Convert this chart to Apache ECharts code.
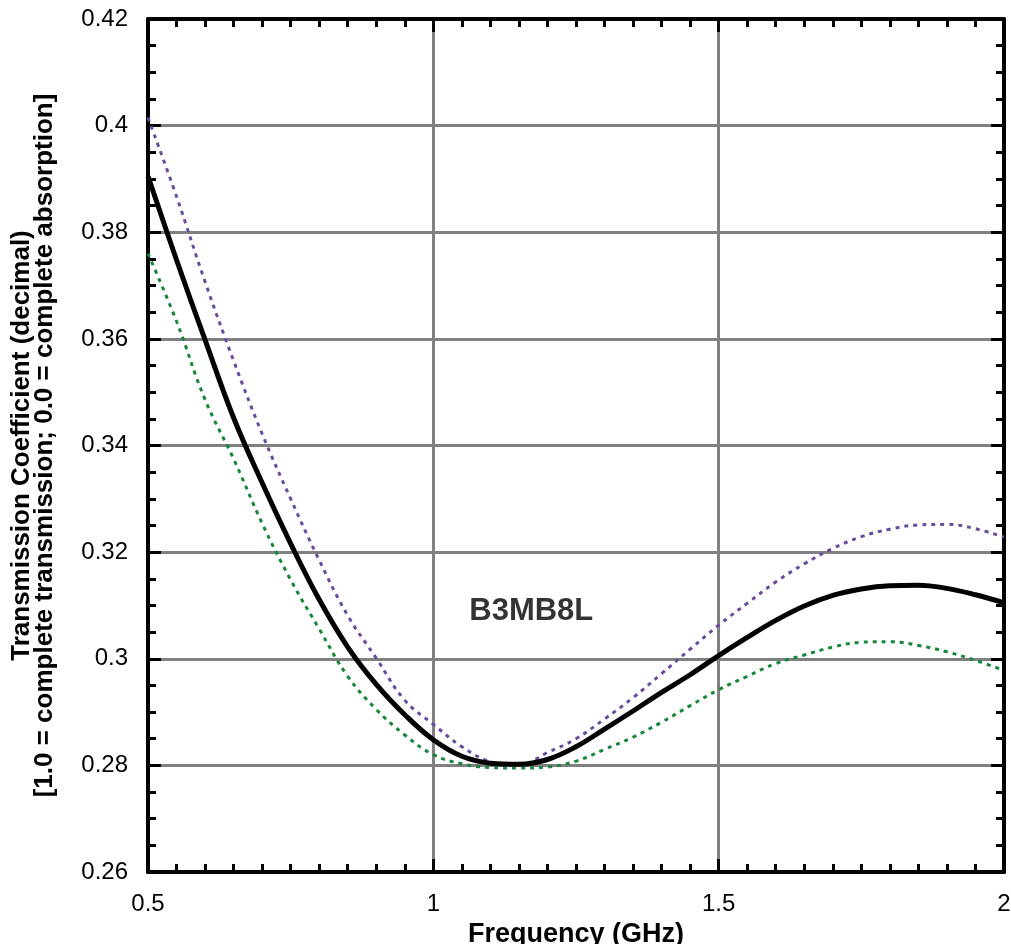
<!DOCTYPE html>
<html>
<head>
<meta charset="utf-8">
<script src="https://cdn.jsdelivr.net/npm/echarts@6/dist/echarts.min.js"></script>
<style>
html,body{margin:0;padding:0;background:#fff;}
#chart{width:1011px;height:944px;}
</style>
</head>
<body>
<div id="chart"></div>
<script>
const frequency = [0.5,0.55,0.6,0.65,0.7,0.75,0.8,0.85,0.9,0.95,1.0,1.05,1.1,1.15,1.2,1.25,1.3,1.35,1.4,1.45,1.5,1.55,1.6,1.65,1.7,1.75,1.8,1.85,1.9,1.95,2.0];
const meanValues = [0.3905,0.3748,0.3598,0.3452,0.3330,0.3216,0.3111,0.3022,0.2952,0.2895,0.2848,0.2817,0.2804,0.2802,0.2811,0.2835,0.2868,0.2902,0.2937,0.2970,0.3006,0.3040,0.3072,0.3099,0.3119,0.3131,0.3137,0.3138,0.3132,0.3120,0.3105];
const upperValues = [0.4015,0.3867,0.3707,0.3559,0.3422,0.3300,0.3185,0.3081,0.3001,0.2922,0.2877,0.2835,0.2807,0.2801,0.2824,0.2850,0.2887,0.2927,0.2972,0.3018,0.3063,0.3104,0.3144,0.3178,0.3207,0.3229,0.3243,0.3251,0.3252,0.3244,0.3228];
const lowerValues = [0.3760,0.3633,0.3486,0.3375,0.3254,0.3148,0.3056,0.2967,0.2905,0.2857,0.2820,0.2803,0.2796,0.2795,0.2797,0.2808,0.2830,0.2853,0.2881,0.2912,0.2942,0.2967,0.2991,0.3007,0.3022,0.3031,0.3032,0.3025,0.3013,0.2997,0.2978];
const xTicks = [0.5, 1, 1.5, 2];
const yTicks = [0.26,0.28,0.30,0.32,0.34,0.36,0.38,0.40,0.42];
const annotationText = 'B3MB8L';
const annotationPos = [1.1716, 0.3088];
const xTitle = 'Frequency (GHz)';
const yTitle = 'Transmission Coefficient (decimal)\n[1.0 = complete transmission; 0.0 = complete absorption]';

const FONT = '"Liberation Sans", Arial, sans-serif';
const chart = echarts.init(document.getElementById('chart'), null, {renderer:'canvas'});

function zip(xs, ys){ return xs.map((x,i)=>[x, ys[i]]); }

const axisLineStyle = {show:true, onZero:false, lineStyle:{color:'#000', width:4}};
const majorTick = {show:true, inside:true, length:13, lineStyle:{color:'#000', width:3}};

const option = {
  backgroundColor:'#fff',
  animation:false,
  grid:{left:148, right:7, top:19, bottom:72, containLabel:false, outerBoundsMode:'none'},
  xAxis:[
    {
      type:'value', min:xTicks[0], max:xTicks[xTicks.length-1], interval:0.5, position:'bottom',
      name:xTitle, nameLocation:'middle', nameGap:46,
      nameTextStyle:{fontFamily:FONT, fontWeight:'bold', fontSize:27, color:'#000'},
      axisLabel:{fontFamily:FONT, fontSize:24, color:'#000', margin:20},
      axisLine:axisLineStyle, axisTick:majorTick,
      splitLine:{show:true, lineStyle:{color:'#808080', width:3}},
      minorTick:{show:true, splitNumber:10, length:8, lineStyle:{color:'#000', width:3}}
    },
    {
      type:'value', min:xTicks[0], max:xTicks[xTicks.length-1], interval:0.5, position:'top',
      axisLabel:{show:false}, splitLine:{show:false},
      axisLine:axisLineStyle, axisTick:majorTick,
      minorTick:{show:true, splitNumber:10, length:8, lineStyle:{color:'#000', width:3}}
    }
  ],
  yAxis:[
    {
      type:'value', min:yTicks[0], max:yTicks[yTicks.length-1], interval:0.02, position:'left',
      name:yTitle, nameLocation:'middle', nameGap:92, nameRotate:90,
      nameTextStyle:{fontFamily:FONT, fontWeight:'bold', fontSize:26, color:'#000', lineHeight:23, align:'center'},
      axisLabel:{fontFamily:FONT, fontSize:24, color:'#000', margin:20},
      axisLine:axisLineStyle, axisTick:majorTick,
      splitLine:{show:true, lineStyle:{color:'#808080', width:3}},
      minorTick:{show:true, splitNumber:4, length:8, lineStyle:{color:'#000', width:3}}
    },
    {
      type:'value', min:yTicks[0], max:yTicks[yTicks.length-1], interval:0.02, position:'right',
      axisLabel:{show:false}, splitLine:{show:false},
      axisLine:axisLineStyle, axisTick:majorTick,
      minorTick:{show:true, splitNumber:4, length:8, lineStyle:{color:'#000', width:3}}
    }
  ],
  series:[
    {type:'line', name:'upper', data:zip(frequency, upperValues), smooth:0.4, showSymbol:false, clip:true, z:3,
     lineStyle:{color:'#6a4c9e', width:3, type:[4,5]}},
    {type:'line', name:'lower', data:zip(frequency, lowerValues), smooth:0.4, showSymbol:false, clip:true, z:3,
     lineStyle:{color:'#17863b', width:3, type:[4,5]}},
    {type:'line', name:'mean', data:zip(frequency, meanValues), smooth:0.4, showSymbol:false, clip:true, z:4,
     lineStyle:{color:'#000', width:5}},
    {type:'scatter', name:'annotation', data:[annotationPos], symbolSize:0, silent:true, z:5,
     label:{show:true, position:'inside', formatter:annotationText, fontFamily:FONT, fontWeight:'bold', fontSize:31, color:'#000', textBorderWidth:0}}
  ]
};
chart.setOption(option);
</script>
</body>
</html>
